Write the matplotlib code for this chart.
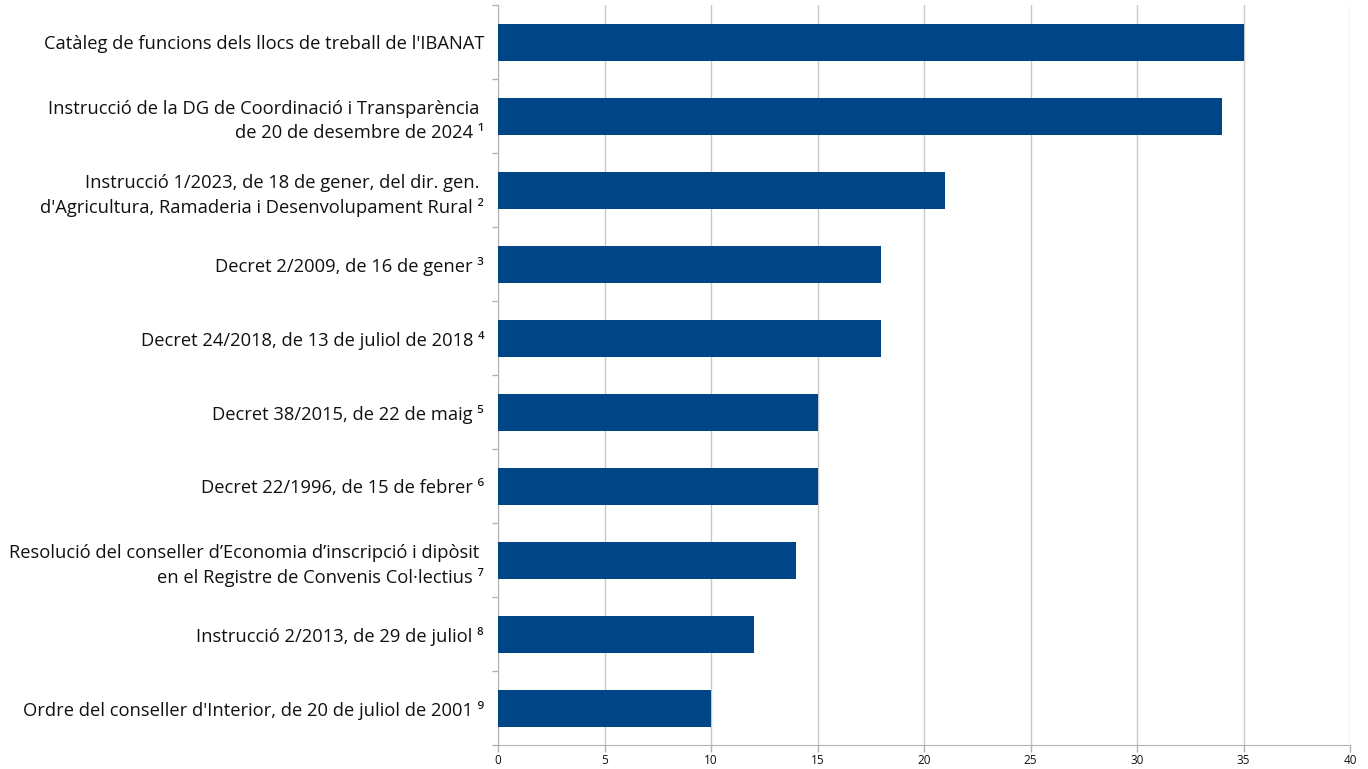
import matplotlib
matplotlib.use("Agg")
import matplotlib.pyplot as plt
import numpy as np

plt.rcParams['font.family'] = ['Open Sans', 'DejaVu Sans']

labels = [
    "Catàleg de funcions dels llocs de treball de l'IBANAT",
    "Instrucció de la DG de Coordinació i Transparència \nde 20 de desembre de 2024 \u00b9",
    "Instrucció 1/2023, de 18 de gener, del dir. gen. \nd'Agricultura, Ramaderia i Desenvolupament Rural \u00b2",
    "Decret 2/2009, de 16 de gener \u00b3",
    "Decret 24/2018, de 13 de juliol de 2018 \u2074",
    "Decret 38/2015, de 22 de maig \u2075",
    "Decret 22/1996, de 15 de febrer \u2076",
    "Resolució del conseller d\u2019Economia d\u2019inscripció i dipòsit \nen el Registre de Convenis Col·lectius \u2077",
    "Instrucció 2/2013, de 29 de juliol \u2078",
    "Ordre del conseller d'Interior, de 20 de juliol de 2001 \u2079",
]
values = [35, 34, 21, 18, 18, 15, 15, 14, 12, 10]

bar_color = '#004586'
grid_color = '#c8c8c8'

fig = plt.figure(figsize=(13.68, 7.69), dpi=100)
ax = fig.add_axes([498 / 1368, 24 / 769, 852 / 1368, 740 / 769])

y = np.arange(len(labels))
ax.barh(y, values, height=0.5, color=bar_color, zorder=3)
ax.set_ylim(len(labels) - 0.5, -0.5)
ax.set_xlim(0, 40)
ax.set_xticks(np.arange(0, 41, 5))
ax.set_yticks(y)
ax.set_yticklabels(labels, fontsize=13.2, color='#111111', linespacing=1.45)
ax.set_yticks(np.arange(-0.5, len(labels), 1), minor=True)
ax.tick_params(axis='y', which='major', length=0, pad=10)
ax.tick_params(axis='y', which='minor', length=4, color='#b3b3b3', width=1)
ax.tick_params(axis='x', length=5, color='#b3b3b3', width=1, labelsize=8.5, pad=1.5, labelcolor='#111111')

ax.grid(axis='x', color=grid_color, linewidth=1, zorder=0)
for s in ['top', 'right']:
    ax.spines[s].set_visible(False)
ax.spines['left'].set_color('#b3b3b3')
ax.spines['bottom'].set_color('#b3b3b3')

fig.savefig('out.png', dpi=100)
